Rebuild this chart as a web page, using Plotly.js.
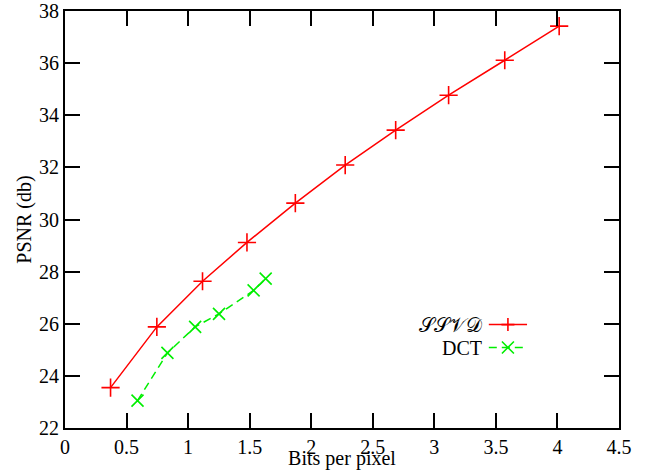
<!DOCTYPE html>
<html>
<head>
<meta charset="utf-8">
<script src="https://cdn.plot.ly/plotly-3.0.1.min.js"></script>
<style>html,body{margin:0;padding:0;background:#fff;}#chart{width:648px;height:470px;}</style>
</head>
<body>
<div id="chart"></div>
<script>
// Data
var ssvdX = [0.37, 0.746, 1.117, 1.478, 1.871, 2.276, 2.686, 3.116, 3.572, 4.014];
var ssvdY = [23.55, 25.88, 27.63, 29.12, 30.63, 32.09, 33.43, 34.77, 36.11, 37.42];
var dctX = [0.589, 0.832, 1.057, 1.251, 1.532, 1.630];
var dctY = [23.05, 24.88, 25.88, 26.38, 27.28, 27.73];
var xTicks = [0, 0.5, 1, 1.5, 2, 2.5, 3, 3.5, 4, 4.5];
var xTickText = ["0", "0.5", "1", "1.5", "2", "2.5", "3", "3.5", "4", "4.5"];
var yTicks = [22, 24, 26, 28, 30, 32, 34, 36, 38];
var seriesNames = ["\u{1D4AE}\u{1D4AE}\u{1D4B1}\u{1D49F}", "DCT"];
var seriesColors = ["#ff0000", "#00ee00"];

var font = "'Liberation Serif', 'Times New Roman', serif";

var traces = [
  {x: ssvdX, y: ssvdY, name: seriesNames[0], type: 'scatter', mode: 'lines+markers',
   line: {color: seriesColors[0], width: 1.5},
   marker: {symbol: 'cross-thin', size: 13, line: {color: seriesColors[0], width: 1.6}},
   showlegend: false},
  {x: dctX, y: dctY, name: seriesNames[1], type: 'scatter', mode: 'lines+markers',
   line: {color: seriesColors[1], width: 1.5, dash: '8px,5px'},
   marker: {symbol: 'x-thin', size: 12, line: {color: seriesColors[1], width: 1.6}},
   showlegend: false}
];

// custom legend (text on the left, sample on the right, like the reference)
var legRows = [{y: 0.248}, {y: 0.193}];
var shapes = [];
var annotations = [];
var lx0 = 0.765, lx1 = 0.834, lxm = (lx0 + lx1) / 2;
legRows.forEach(function (r, i) {
  shapes.push({type: 'line', xref: 'paper', yref: 'paper', x0: lx0, x1: lx1, y0: r.y, y1: r.y,
    line: {color: seriesColors[i], width: 1.5, dash: i === 1 ? '8px,5px' : 'solid'}});
  annotations.push({xref: 'paper', yref: 'paper', x: lx0 - 0.008, y: r.y, xanchor: 'right', yanchor: 'middle',
    text: seriesNames[i], showarrow: false, font: {family: font, size: 20, color: '#000'}});
});
// legend markers as paper-relative paths
var W = 554, H = 417;
function pathPlus(cx, cy, s) {
  var dx = s / W, dy = s / H;
  return 'M' + (cx - dx) + ',' + cy + 'L' + (cx + dx) + ',' + cy + 'M' + cx + ',' + (cy - dy) + 'L' + cx + ',' + (cy + dy);
}
function pathX(cx, cy, s) {
  var dx = s / W, dy = s / H;
  return 'M' + (cx - dx) + ',' + (cy - dy) + 'L' + (cx + dx) + ',' + (cy + dy) + 'M' + (cx - dx) + ',' + (cy + dy) + 'L' + (cx + dx) + ',' + (cy - dy);
}
shapes.push({type: 'path', xref: 'paper', yref: 'paper', path: pathPlus(lxm, legRows[0].y, 6.5),
  line: {color: seriesColors[0], width: 1.6}});
shapes.push({type: 'path', xref: 'paper', yref: 'paper', path: pathX(lxm, legRows[1].y, 6),
  line: {color: seriesColors[1], width: 1.6}});

var axisCommon = {
  showline: true, linecolor: '#000', linewidth: 2, mirror: 'ticks',
  ticks: 'inside', ticklen: 15, tickwidth: 2, tickcolor: '#000',
  showgrid: false, zeroline: false,
  tickfont: {family: font, size: 20, color: '#000'}
};

var layout = {
  width: 648, height: 470,
  margin: {l: 65, r: 29, t: 11, b: 42},
  paper_bgcolor: '#fff', plot_bgcolor: '#fff',
  font: {family: font, color: '#000'},
  xaxis: Object.assign({}, axisCommon, {
    range: [0, 4.5], tickvals: xTicks, ticktext: xTickText,
    title: {text: 'Bits per pixel', font: {family: font, size: 20, color: '#000'}, standoff: 0}
  }),
  yaxis: Object.assign({}, axisCommon, {
    range: [22, 38], tickvals: yTicks,
    title: {text: 'PSNR (db)', font: {family: font, size: 20, color: '#000'}, standoff: 2}
  }),
  shapes: shapes,
  annotations: annotations,
  showlegend: false
};

Plotly.newPlot('chart', traces, layout, {displayModeBar: false, staticPlot: true});
</script>
</body>
</html>
